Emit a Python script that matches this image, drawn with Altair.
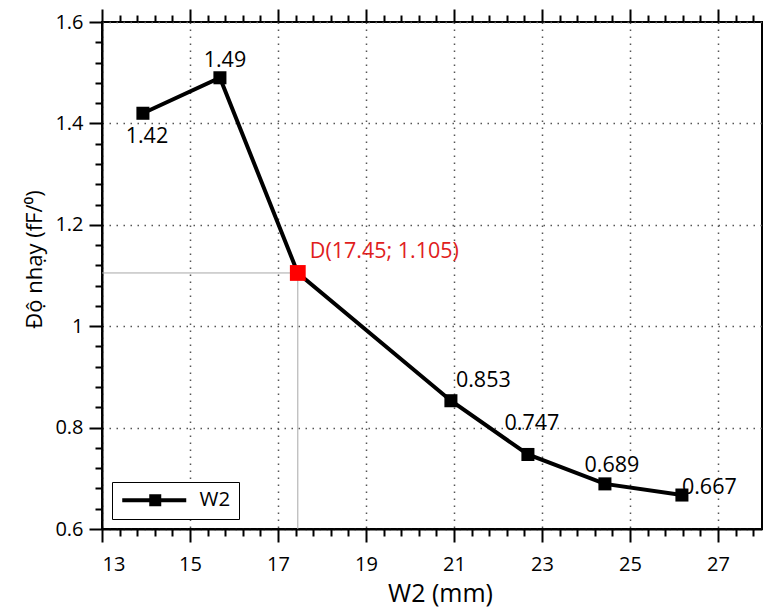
import altair as alt
import pandas as pd

# Sensitivity versus electrode width W2
W2_MM = [13.93, 15.68, 17.45, 20.93, 22.68, 24.43, 26.18]
SENSITIVITY = [1.42, 1.49, 1.105, 0.853, 0.747, 0.689, 0.667]
SERIES = "W2"
D_INDEX = 2  # the highlighted design point D

X_DOMAIN = [13, 28]
Y_DOMAIN = [0.6, 1.6]
X_MAJOR = [13, 15, 17, 19, 21, 23, 25, 27]
Y_MAJOR = [0.6, 0.8, 1.0, 1.2, 1.4, 1.6]

X_MINOR = [round(13 + 0.4 * i, 2) for i in range(38)]
X_MINOR = [v for v in X_MINOR if v not in X_MAJOR and v <= 28]
Y_MINOR = [round(0.6 + 0.04 * i, 3) for i in range(26)]
Y_MINOR = [v for v in Y_MINOR if all(abs(v - m) > 1e-6 for m in Y_MAJOR)]

FONT = "Open Sans"
W, H = 660, 507
LABEL_SIZE = 21.5
TICK_LABEL_SIZE = 20

df = pd.DataFrame({
    "idx": list(range(len(W2_MM))),
    "w": W2_MM,
    "s": SENSITIVITY,
    "series": SERIES,
    "label": [f"{v:g}" for v in SENSITIVITY],
})
df["dlabel"] = [f"D({w:g}; {s:g})" for w, s in zip(W2_MM, SENSITIVITY)]

xs = alt.Scale(domain=X_DOMAIN, nice=False, zero=False)
ys = alt.Scale(domain=Y_DOMAIN, nice=False, zero=False)

grid_style = dict(grid=True, gridDash=[1.5, 5.5], gridColor="#555555", gridWidth=1.5)
tick_style = dict(tickColor="black", tickWidth=2, domainColor="black", domainWidth=2)

x_axis = alt.Axis(values=X_MAJOR, format="d", title="W2 (mm)", orient="bottom",
                  tickSize=13, labelFontSize=TICK_LABEL_SIZE, labelFont=FONT,
                  labelColor="black", labelPadding=12, titleFont=FONT, titleFontSize=25,
                  titleFontWeight="normal", titleColor="black",
                  titleX=338, titleY=64, titleBaseline="middle",
                  **grid_style, **tick_style)
y_axis = alt.Axis(values=Y_MAJOR, format="~g", title="Độ nhạy (fF/⁰)", orient="left",
                  tickSize=13, labelFontSize=TICK_LABEL_SIZE, labelFont=FONT,
                  labelColor="black", labelPadding=6, titleFont=FONT, titleFontSize=22,
                  titleFontWeight="normal", titleColor="black",
                  titleX=-68, titleY=237, titleBaseline="middle",
                  **grid_style, **tick_style)

X = alt.X("w:Q", scale=xs, axis=x_axis)
Y = alt.Y("s:Q", scale=ys, axis=y_axis)
Xn = alt.X("w:Q", scale=xs)
Yn = alt.Y("s:Q", scale=ys)

base = alt.Chart(df)
d_row = base.transform_filter(alt.datum.idx == D_INDEX)

# thin guide lines from the axes to point D
h_ref = d_row.mark_rule(color="#a8a8a8", strokeWidth=1).encode(
    x=Xn, x2=alt.value(0), y=Yn)
v_ref = d_row.mark_rule(color="#a8a8a8", strokeWidth=1).encode(
    x=Xn, y=Yn, y2=alt.value(H))

line = base.mark_line(color="black", strokeWidth=4).encode(x=X, y=Y)

# legend glyph: a thick line segment with a square marker on it
# (units of 10 px; symbol slot spans -1..1)
legend_symbol = ("M-0.8,-0.2H5.6V0.2H-0.8Z "
                 "M1.9,-0.6H3.1V0.6H1.9Z")
points = base.transform_filter(alt.datum.idx != D_INDEX).mark_square(
    size=170, opacity=1, filled=True).encode(
    x=Xn, y=Yn,
    color=alt.Color("series:N",
                    scale=alt.Scale(domain=[SERIES], range=["black"]),
                    legend=alt.Legend(title=None, orient="none", legendX=10, legendY=460,
                                      symbolType=legend_symbol, symbolSize=400,
                                      symbolStrokeWidth=0, symbolOpacity=1,
                                      labelFont=FONT, labelFontSize=20.5,
                                      labelColor="black", labelOffset=59,
                                      strokeColor="black", fillColor="white",
                                      padding=8)))

d_point = d_row.mark_square(size=250, opacity=1, filled=True, color="#ff0000").encode(
    x=Xn, y=Yn)

# value labels: (dx, dy, align) for each point
LABEL_OFFSETS = {
    0: (4, 30, "center"),
    1: (5, -11, "center"),
    3: (5, -14, "left"),
    4: (4, -24, "center"),
    5: (7, -12, "center"),
    6: (0, -1, "left"),
}
texts = []
for i, (dx, dy, al) in LABEL_OFFSETS.items():
    texts.append(
        base.transform_filter(alt.datum.idx == i).mark_text(
            dx=dx, dy=dy, align=al, baseline="alphabetic",
            font=FONT, fontSize=LABEL_SIZE, color="black").encode(
            x=Xn, y=Yn, text="label:N"))

d_text = d_row.mark_text(dx=12, dy=-15, align="left", baseline="alphabetic",
                         font=FONT, fontSize=LABEL_SIZE, color="#e0201c").encode(
    x=Xn, y=Yn, text="dlabel:N")

main = alt.layer(h_ref, v_ref, line, points, d_point, *texts, d_text)


def axis_only(x_ax=None, y_ax=None):
    return base.mark_point(opacity=0).encode(
        x=alt.X("w:Q", scale=xs, axis=x_ax),
        y=alt.Y("s:Q", scale=ys, axis=y_ax))


bare = dict(labels=False, domain=False, grid=False, title=None,
            tickColor="black", tickWidth=2)
bottom_minor = axis_only(x_ax=alt.Axis(orient="bottom", values=X_MINOR, tickSize=7, **bare))
top_major = axis_only(x_ax=alt.Axis(orient="top", values=X_MAJOR, tickSize=13, **bare))
top_minor = axis_only(x_ax=alt.Axis(orient="top", values=X_MINOR, tickSize=7, **bare))
left_minor = axis_only(y_ax=alt.Axis(orient="left", values=Y_MINOR, tickSize=7, **bare))

chart = alt.layer(main, bottom_minor, top_major, top_minor, left_minor).resolve_scale(
    x="independent", y="independent"
).properties(
    width=W, height=H,
    autosize=alt.AutoSizeParams(type="none"),
    padding={"left": 102, "top": 22, "right": 1, "bottom": 82},
    background="white",
).configure_view(stroke="black", strokeWidth=2)

chart.save("out.html", embed_options={"renderer": "svg", "actions": False})
